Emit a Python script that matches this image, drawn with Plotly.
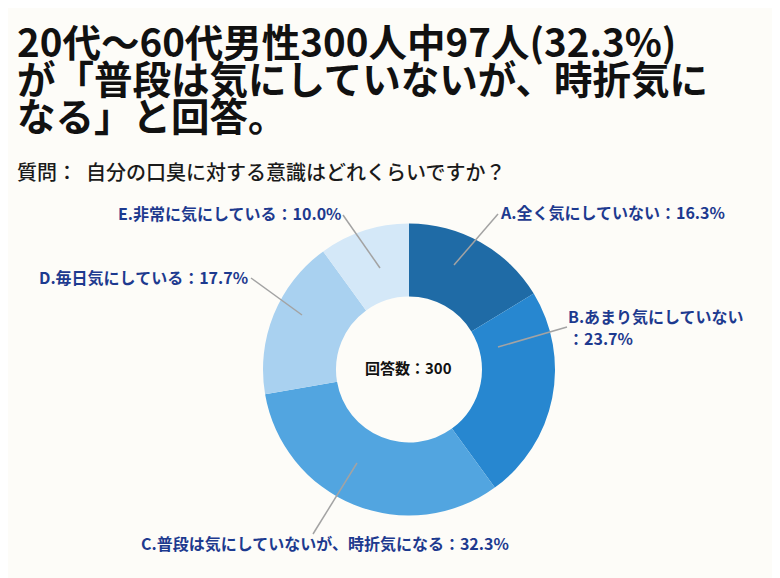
import plotly.graph_objects as go

# ---- data ----
categories = ["A.全く気にしていない", "B.あまり気にしていない", "C.普段は気にしていないが、時折気になる",
              "D.毎日気にしている", "E.非常に気にしている"]
percentages = [16.3, 23.7, 32.3, 17.7, 10.0]
total_responses = 300
title_lines = ["20代～60代男性300人中97人(32.3%)", "が「普段は気にしていないが、時折気に", "なる」と回答。"]
question = "質問：  自分の口臭に対する意識はどれくらいですか？"

# ---- style ----
OFF = 8  # page body margin
W, H = 780 - OFF, 578 - OFF
BG = "#fdfcf8"
colors = ["#1f6ba6", "#2787d0", "#52a5e0", "#a9d1f0", "#d4e8f8"]
LABEL_COLOR = "#1d3a8f"
LINE_COLOR = "#a3a3a3"
JP = "Noto Sans CJK JP, Noto Sans, sans-serif"

def px(x):
    return (x - OFF) / W

def py(y):
    return 1 - (y - OFF) / H

cx, cy, R = 409, 369.5, 146

fig = go.Figure(go.Pie(
    labels=categories,
    values=percentages,
    hole=0.5,
    sort=False,
    direction="clockwise",
    rotation=0,
    marker=dict(colors=colors, line=dict(width=0)),
    textinfo="none",
    hoverinfo="label+percent",
    domain=dict(x=[px(cx - R), px(cx + R)], y=[py(cy + R), py(cy - R)]),
    showlegend=False,
))

annotations = []
# title
for txt, yc in zip(title_lines, [40, 77, 114]):
    annotations.append(dict(text=f"<b>{txt}</b>", x=px(15), y=py(yc), xref="paper", yref="paper",
                            xanchor="left", yanchor="middle", showarrow=False,
                            font=dict(family=JP, size=38.5, color="#111111")))
annotations.append(dict(text=question, x=px(15), y=py(171), xref="paper", yref="paper",
                        xanchor="left", yanchor="middle", showarrow=False,
                        font=dict(family=JP, size=20, color="#1a1a1a", weight=500)))
# center
annotations.append(dict(text=f"<b>回答数：{total_responses}</b>", x=px(cx), y=py(367),
                        xref="paper", yref="paper", xanchor="center", yanchor="middle",
                        showarrow=False, font=dict(family=JP, size=15, color="#111111")))

# slice labels: (left x, center y of first line)
label_pos = [(498, 212), (566, 316), (139, 543), (37, 277), (116, 213)]
leader = [((454, 265), (498, 214)), ((498, 347), (567, 327)), ((357, 463), (313, 534)),
          ((302, 315), (251, 278)), ((380, 268), (343, 215))]

for i, (cat, pct) in enumerate(zip(categories, percentages)):
    lx, ly = label_pos[i]
    if i == 1:
        lines = [cat, f"：{pct:.1f}%"]
    else:
        lines = [f"{cat}：{pct:.1f}%"]
    for j, line in enumerate(lines):
        annotations.append(dict(text=f"<b>{line}</b>", x=px(lx), y=py(ly + 22 * j),
                                xref="paper", yref="paper", xanchor="left", yanchor="middle",
                                showarrow=False,
                                font=dict(family=JP, size=16, color=LABEL_COLOR)))

shapes = []
for (x0, y0), (x1, y1) in leader:
    shapes.append(dict(type="line", xref="paper", yref="paper",
                       x0=px(x0), y0=py(y0), x1=px(x1), y1=py(y1),
                       line=dict(color=LINE_COLOR, width=1.5)))

fig.update_layout(
    width=W, height=H,
    margin=dict(l=0, r=0, t=0, b=0),
    paper_bgcolor=BG, plot_bgcolor=BG,
    annotations=annotations,
    shapes=shapes,
)

fig.write_html("out.html")
